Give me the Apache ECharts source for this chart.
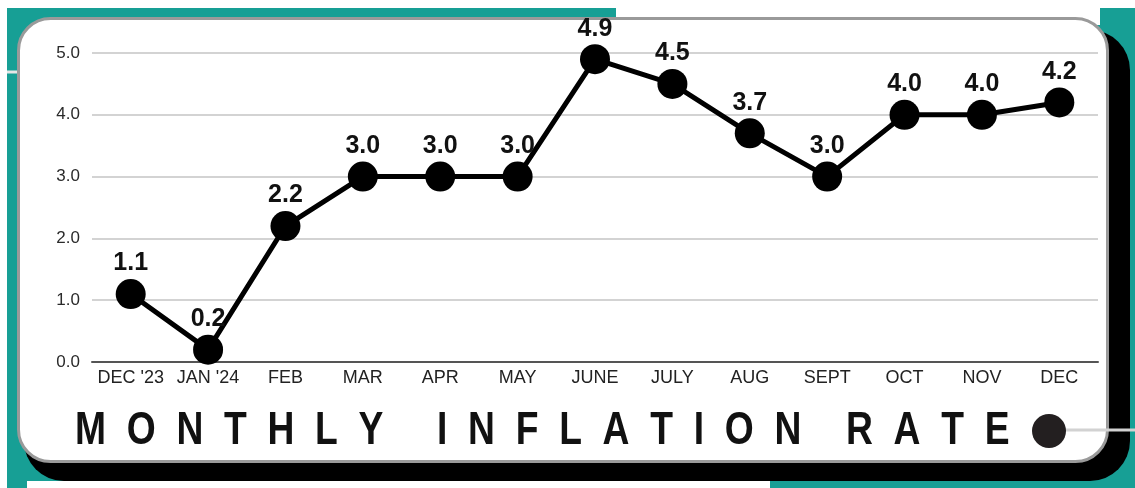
<!DOCTYPE html>
<html>
<head>
<meta charset="utf-8">
<script src="https://cdn.jsdelivr.net/npm/echarts@6/dist/echarts.min.js"></script>
<style>
  html, body { margin: 0; padding: 0; background: #fff; }
  #chart { width: 1135px; height: 488px; }
</style>
</head>
<body>
<div id="chart"></div>
<script>
const categories = ["DEC '23", "JAN '24", "FEB", "MAR", "APR", "MAY", "JUNE", "JULY", "AUG", "SEPT", "OCT", "NOV", "DEC"];
const inflation = [1.1, 0.2, 2.2, 3.0, 3.0, 3.0, 4.9, 4.5, 3.7, 3.0, 4.0, 4.0, 4.2];
const yMin = 0, yMax = 5, yStep = 1;
const titleWords = ["MONTHLY", "INFLATION", "RATE"];

const spaced = w => w.split('').join('  ');
const titleX = [75, 437, 846];

const chart = echarts.init(document.getElementById('chart'));
chart.setOption({
  animation: false,
  backgroundColor: '#fff',
  grid: { left: 92, right: 37, top: 53, bottom: 126 },
  xAxis: {
    type: 'category',
    data: categories,
    boundaryGap: true,
    axisLine: { show: true, lineStyle: { color: '#555', width: 2 } },
    axisTick: { show: false },
    axisLabel: {
      interval: 0, margin: 7, fontSize: 18, color: '#222',
      fontFamily: '"Liberation Sans", Arial, sans-serif'
    },
    splitLine: { show: false }
  },
  yAxis: {
    type: 'value', min: yMin, max: yMax, interval: yStep,
    axisLine: { show: false }, axisTick: { show: false },
    axisLabel: {
      margin: 12, fontSize: 17, color: '#2a2a2a',
      fontFamily: '"Liberation Sans", Arial, sans-serif',
      formatter: v => v.toFixed(1)
    },
    splitLine: { show: true, lineStyle: { color: '#c4c4c4', width: 1.5 } }
  },
  series: [{
    type: 'line',
    data: inflation,
    symbol: 'circle',
    symbolSize: 30,
    lineStyle: { color: '#000', width: 5 },
    itemStyle: { color: '#000' },
    label: {
      show: true, position: 'top', distance: 3,
      fontSize: 25, fontWeight: 'bold', color: '#111',
      fontFamily: '"Liberation Sans", Arial, sans-serif',
      formatter: p => p.value.toFixed(1)
    },
    z: 5
  }],
  graphic: [
    { type: 'rect', z: -20, silent: true, shape: { x: 7, y: 8, width: 1128, height: 480 }, style: { fill: '#179f95' } },
    { type: 'rect', z: -19, silent: true, shape: { x: 616, y: 0, width: 484, height: 25 }, style: { fill: '#fff' } },
    { type: 'rect', z: -19, silent: true, shape: { x: 27, y: 481, width: 743, height: 7 }, style: { fill: '#fff' } },
    { type: 'line', z: -19, silent: true, shape: { x1: 7, y1: 72, x2: 20, y2: 72 }, style: { stroke: '#e6e6e6', lineWidth: 3 } },
    { type: 'rect', z: -18, silent: true, shape: { x: 24, y: 30, width: 1106, height: 451, r: 40 }, style: { fill: '#000' } },
    { type: 'rect', z: -17, silent: true, shape: { x: 18.5, y: 18.5, width: 1089, height: 443, r: 32 }, style: { fill: '#fff', stroke: '#9a9a9a', lineWidth: 3 } },
    { type: 'line', z: -16, silent: true, shape: { x1: 1050, y1: 430, x2: 1135, y2: 430 }, style: { stroke: '#d2d2d2', lineWidth: 3 } },
    { type: 'circle', z: 10, silent: true, shape: { cx: 1049, cy: 431, r: 17 }, style: { fill: '#231f20' } }
  ].concat(titleWords.map((w, i) => ({
    type: 'text', z: 10, silent: true, x: titleX[i], y: 431, scaleX: 0.81,
    style: {
      text: spaced(w), fill: '#111', fontSize: 46, fontWeight: 'bold',
      fontFamily: '"Liberation Sans", Arial, sans-serif',
      textAlign: 'left', textVerticalAlign: 'middle'
    }
  })))
});
</script>
</body>
</html>
